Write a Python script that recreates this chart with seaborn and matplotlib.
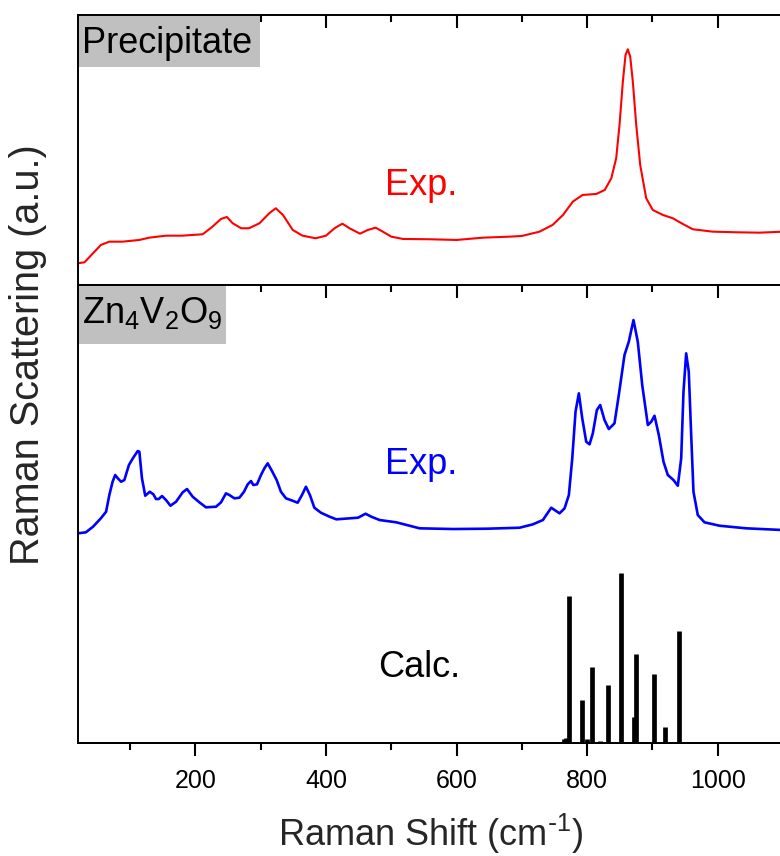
import matplotlib
matplotlib.use("Agg")
import matplotlib.pyplot as plt
from matplotlib.patches import Rectangle
from matplotlib.ticker import FixedLocator
import seaborn as sns
import pandas as pd

# Raman spectrum of the precipitate (shift in cm-1, intensity in a.u.)
red_x = [20, 30, 43, 55, 68, 88, 114, 129, 155, 180,
         211, 226, 239, 248, 257, 270, 282, 298, 313, 323,
         334, 349, 364, 384, 400, 413, 425, 436, 452, 464,
         476, 487, 500, 518, 559, 600, 640, 681, 700, 727,
         747, 763, 778, 793, 814, 827, 837, 844.5, 849.6, 854.7,
         858.8, 862.3, 866, 870, 875.2, 881.3, 890.5, 900.6, 916, 931.2,
         946.6, 961.9, 992.5, 1028, 1064, 1100]
red_y = [21.7, 22.7, 31.7, 40, 43.3, 43.3, 45, 47.3, 49.3, 49.3,
         50.7, 58.3, 66, 68, 61.7, 56.7, 56.7, 61.7, 71.7, 76.7,
         70, 55, 49.3, 46.7, 49.3, 56.7, 61.3, 56.7, 51.3, 55,
         57.3, 53.3, 48.3, 46, 45.7, 45, 47.3, 48.3, 49, 53.3,
         60, 70, 83.3, 90, 91, 95, 106.7, 126.7, 160, 203.3,
         230, 235.7, 228.3, 203.3, 160, 120, 86.7, 75, 70, 66.7,
         61, 55.7, 53.3, 52.7, 52.3, 53.3]

# Measured Raman spectrum of Zn4V2O9 (offset above the calculated lines)
blue_x = [20, 32, 43, 55, 63, 68, 73, 77, 81, 86,
          91, 98, 104, 111.5, 114, 118, 123, 130, 135.5, 139.5,
          143.6, 148.7, 154.8, 161.6, 170.2, 180.4, 187, 195.7, 206, 216,
          231.4, 239.1, 246.7, 251.9, 259.6, 267.2, 274.3, 280, 285, 288.7,
          294.2, 300.3, 305.5, 310.6, 317.2, 324.3, 330.9, 338.6, 348.8, 356.5,
          363.1, 369.2, 375.3, 382.1, 392.2, 405.5, 415.8, 436.1, 448.9, 460.6,
          469.4, 482.1, 507.7, 543.3, 594.3, 645.5, 696.5, 716.9, 732.2, 745,
          757.7, 765.4, 772, 777.2, 782.2, 787.3, 792.5, 798.6, 803.7, 808.7,
          814.9, 820, 826.6, 833.2, 841.9, 848.5, 857.2, 863.8, 871, 877.6,
          884.4, 893, 898.2, 903.2, 909.8, 917, 923.6, 932.3, 938.9, 944.1,
          947.6, 951.7, 955.7, 959.4, 962.9, 969.5, 979.8, 1002.8, 1043.6, 1100]
blue_y = [209.7, 210.7, 216.3, 224.7, 231.3, 248, 261.3, 268, 264.7, 261.3,
          263, 278, 284.7, 292, 291.3, 264.7, 247.3, 251.3, 248.7, 244,
          244, 247, 243, 237.3, 241.3, 250.7, 254, 246.3, 240.7, 235.7,
          236.3, 240.7, 249.7, 248, 244.7, 245.3, 251.3, 258.7, 262, 258,
          258.7, 268, 274.7, 279.7, 272, 263, 251.3, 244.7, 242.3, 240.3,
          248, 256.3, 248, 235.3, 230.3, 226.3, 223.7, 224.7, 225.3, 229.3,
          226.3, 223, 220.7, 214.7, 214, 214.3, 215.3, 218.7, 223, 235.3,
          229.7, 234.7, 248, 284.7, 331.3, 349.7, 324.7, 301.3, 298.7, 309.7,
          333, 338, 323, 314, 319.7, 348, 388, 401.3, 423, 401.3,
          358, 318, 321.3, 327.3, 308, 281.3, 268, 263, 257.3, 284.7,
          351.3, 389.7, 371.3, 308, 251.3, 228, 220.7, 217.3, 214.7, 213]

# Calculated Raman-active modes (position, intensity)
calc_pos = [712, 722, 731, 741, 750, 758, 765, 768, 771.7, 791.6, 800,
            807.8, 819, 831.2, 842, 852.1, 871.5, 875.1, 901.7, 920, 940.4]
calc_int = [1, 1, 1, 1, 1, 1, 4, 5, 147, 42.7, 4,
            76, 2, 57.7, 1, 170, 26, 88.7, 69.4, 16, 112]

xticks = [200, 400, 600, 800, 1000]
xminor = [100, 300, 500, 700, 900]

sns.set_theme(style="ticks")
plt.rcParams["font.family"] = ["Liberation Sans", "DejaVu Sans"]
plt.rcParams["mathtext.default"] = "regular"
plt.rcParams.update({
    "xtick.color": "black",
    "xtick.labelcolor": "black",
    "xtick.major.size": 9.5,
    "xtick.minor.size": 4.8,
    "xtick.major.width": 1.5,
    "xtick.minor.width": 1.5,
})

fig = plt.figure(figsize=(7.8, 8.56), dpi=100)
ax_top = fig.add_axes([0.1, 0.6671, 0.9038, 0.3154])
ax_bot = fig.add_axes([0.1, 0.1320, 0.9038, 0.5350])

df_red = pd.DataFrame({"shift": red_x, "intensity": red_y})
df_blue = pd.DataFrame({"shift": blue_x, "intensity": blue_y})

sns.lineplot(data=df_red, x="shift", y="intensity", ax=ax_top,
             color="#FF0000", lw=1.5, estimator=None)
sns.lineplot(data=df_blue, x="shift", y="intensity", ax=ax_bot,
             color="#0000FF", lw=1.9, estimator=None)
ax_bot.vlines(calc_pos, 0, calc_int, colors="black", lw=3.4, capstyle="butt")

for ax in (ax_top, ax_bot):
    ax.set_xlim(20, 1100)
    ax.set_xlabel("")
    ax.set_ylabel("")
    ax.set_yticks([])
    ax.xaxis.set_major_locator(FixedLocator(xticks))
    ax.xaxis.set_minor_locator(FixedLocator(xminor))
    ax.tick_params(axis="x", which="both", top=True, bottom=False,
                   direction="in", labelbottom=False, labeltop=False)
    for side in ("left", "right", "top", "bottom"):
        ax.spines[side].set_linewidth(1.4)
        ax.spines[side].set_color("black")
        ax.spines[side].set_zorder(4)
    ax.spines["right"].set_visible(False)

ax_top.set_ylim(0, 270)
ax_bot.set_ylim(0, 458)

# labelled outward ticks under the lower panel
sec = ax_bot.secondary_xaxis("bottom")
sec.xaxis.set_major_locator(FixedLocator(xticks))
sec.xaxis.set_minor_locator(FixedLocator(xminor))
sec.tick_params(axis="x", which="both", bottom=True, top=False,
                direction="out", labelbottom=True, labelsize=18, pad=9,
                labelcolor="black", color="black", width=1.5)
sec.tick_params(axis="x", which="major", length=9.5)
sec.tick_params(axis="x", which="minor", length=4.8)
sec.spines["bottom"].set_linewidth(1.4)
sec.spines["bottom"].set_color("black")

# sample name boxes in the upper-left corners
ax_top.add_patch(Rectangle((0, 0.8085), 0.258, 0.1915, transform=ax_top.transAxes,
                           facecolor="#C0C0C0", edgecolor="none", zorder=3))
ax_top.text(0.0057, 0.858, "Precipitate", transform=ax_top.transAxes,
            fontsize=26, color="black", ha="left", va="baseline", zorder=5)
ax_bot.add_patch(Rectangle((0, 0.8705), 0.2095, 0.1295, transform=ax_bot.transAxes,
                           facecolor="#C0C0C0", edgecolor="none", zorder=3))
ax_bot.text(0.0057, 0.9177, r"Zn$_4$V$_2$O$_9$", transform=ax_bot.transAxes,
            fontsize=26, color="black", ha="left", va="baseline", zorder=5)

# curve annotations
ax_top.text(490, 90, "Exp.", fontsize=26, color="#FF0000", ha="left", va="baseline")
ax_bot.text(490, 269, "Exp.", fontsize=26, color="#0000FF", ha="left", va="baseline")
ax_bot.text(480, 66, "Calc.", fontsize=26, color="black", ha="left", va="baseline")

fig.text(431 / 780, 1 - 846 / 856, r"Raman Shift (cm$^{\text{-}1}$)", fontsize=26,
         ha="center", va="baseline")
fig.text(28 / 780, 1 - 355 / 856, "Raman Scattering (a.u.)", fontsize=28.5,
         rotation=90, ha="center", va="center")

fig.savefig("out.png", dpi=100)
